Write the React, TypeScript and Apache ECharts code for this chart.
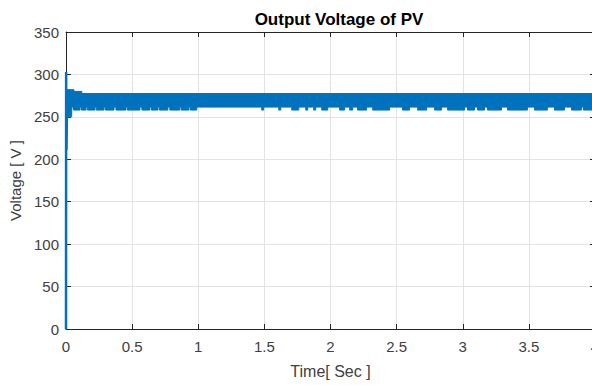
import React, { useEffect, useRef } from "react";
import * as echarts from "echarts";

// Start-up transient of the PV output voltage (time in s, voltage in V)
const startupTime = [0, 0.001, 0.004, 0.008];
const startupVolt = [0, 303, 211, 280];

// Upper edge of the ripple band (held until next time)
const upperEdgeTime = [0.004, 0.06, 0.12, 4.0];
const upperEdgeVolt = [282, 280, 277.5, 277.5];

// Lower edge of the ripple band (held until next time)
const lowerEdgeTime = [
  0.004, 0.043, 0.045, 0.056, 0.106, 0.116, 0.151, 0.161, 0.219, 0.229, 0.287, 0.297,
  0.363, 0.378, 0.453, 0.463, 0.559, 0.574, 0.634, 0.645, 0.695, 0.705, 0.77, 0.785,
  0.861, 0.871, 0.929, 0.939, 0.989, 1.48, 1.495, 1.609, 1.624, 1.707, 1.76, 1.813,
  1.828, 1.873, 1.888, 1.934, 1.979, 2.069, 2.107, 2.145, 2.168, 2.205, 2.273, 2.319,
  2.447, 2.545, 2.598, 2.659, 2.727, 2.787, 2.84, 2.885, 3.014, 3.036, 3.089, 3.112,
  3.165, 3.187, 3.293, 3.338, 3.489, 3.542, 3.64, 3.693, 3.769, 3.822, 3.897, 3.912, 4.0,
];
const lowerEdgeVolt = [
  250, 258, 261.5, 258, 261.5, 258, 261.5, 258, 261.5, 258, 261.5, 258,
  261.5, 258, 261.5, 258, 261.5, 258, 261.5, 258, 261.5, 258, 261.5, 258,
  261.5, 258, 261.5, 258, 261.5, 258, 261.5, 258, 261.5, 258, 261.5, 258,
  261.5, 258, 261.5, 258, 261.5, 258, 261.5, 258, 261.5, 258, 261.5, 258,
  261.5, 258, 261.5, 258, 261.5, 258, 261.5, 258, 261.5, 258, 261.5, 258,
  261.5, 258, 261.5, 258, 261.5, 258, 261.5, 258, 261.5, 258, 261.5, 258, 258,
];

const xTicks = ["0", "0.5", "1", "1.5", "2", "2.5", "3", "3.5", "4"];
const yTicks = ["0", "50", "100", "150", "200", "250", "300", "350"];

const BLUE = "#0072BD";
const AXIS = "#262626";
const LABEL = "#404040";
const GRID = "#e3e3e3";
const FONT = "'Liberation Sans', Arial, Helvetica, sans-serif";

export default function App() {
  const ref = useRef<HTMLDivElement>(null);
  useEffect(() => {
    if (!ref.current) return;
    const chart = echarts.init(ref.current, null, { renderer: "svg" });
    const pair = (t: number[], v: number[]) => t.map((x, i) => [x, v[i]]);
    const xMax = Number(xTicks[xTicks.length - 1]);
    const yMax = Number(yTicks[yTicks.length - 1]);
    const baseX = {
      type: "value",
      min: 0,
      max: xMax,
      interval: 0.5,
      axisLine: { show: true, onZero: false, lineStyle: { color: AXIS, width: 1 } },
      axisTick: { show: true, inside: true, length: 5, lineStyle: { color: AXIS } },
    };
    const baseY = {
      type: "value",
      min: 0,
      max: yMax,
      interval: 50,
      axisLine: { show: true, onZero: false, lineStyle: { color: AXIS, width: 1 } },
      axisTick: { show: true, inside: true, length: 5, lineStyle: { color: AXIS } },
    };
    chart.setOption({
      animation: false,
      title: {
        text: "Output Voltage of PV",
        left: 334,
        textAlign: "center",
        top: 6,
        textStyle: { fontFamily: FONT, fontSize: 17, fontWeight: "bold", color: "#000" },
      },
      grid: {
        left: 66,
        width: 529,
        top: 32,
        bottom: 56,
        containLabel: false,
        outerBoundsMode: "none",
      },
      xAxis: [
        {
          ...baseX,
          position: "bottom",
          name: "Time[ Sec ]",
          nameLocation: "middle",
          nameGap: 34,
          nameTextStyle: { fontFamily: FONT, fontSize: 16, color: LABEL },
          axisLabel: {
            fontFamily: FONT,
            fontSize: 15,
            color: LABEL,
            margin: 10,
            formatter: (v: number) => xTicks[Math.round(v / 0.5)] ?? "",
          },
          splitLine: { show: true, lineStyle: { color: GRID, width: 1 } },
        },
        {
          ...baseX,
          position: "top",
          axisLabel: { show: false },
          splitLine: { show: false },
        },
      ],
      yAxis: [
        {
          ...baseY,
          position: "left",
          name: "Voltage [ V ]",
          nameLocation: "middle",
          nameGap: 37,
          nameTextStyle: { fontFamily: FONT, fontSize: 15, color: LABEL },
          axisLabel: {
            fontFamily: FONT,
            fontSize: 15,
            color: LABEL,
            margin: 7,
            formatter: (v: number) => yTicks[Math.round(v / 50)] ?? "",
          },
          splitLine: { show: true, lineStyle: { color: GRID, width: 1 } },
        },
        {
          ...baseY,
          position: "right",
          axisLabel: { show: false },
          splitLine: { show: false },
        },
      ],
      series: [
        {
          type: "line",
          name: "upper",
          data: pair(upperEdgeTime, upperEdgeVolt),
          step: "end",
          showSymbol: false,
          symbol: "none",
          lineStyle: { color: BLUE, width: 1 },
          areaStyle: { color: BLUE, opacity: 1, origin: 261.5 },
          z: 3,
        },
        {
          type: "line",
          name: "lower",
          data: pair(lowerEdgeTime, lowerEdgeVolt),
          step: "end",
          showSymbol: false,
          symbol: "none",
          lineStyle: { color: BLUE, width: 1 },
          areaStyle: { color: BLUE, opacity: 1, origin: 261.5 },
          z: 3,
        },
        {
          type: "line",
          name: "startup",
          data: pair(startupTime, startupVolt),
          showSymbol: false,
          symbol: "none",
          lineStyle: { color: BLUE, width: 2.5 },
          z: 4,
        },
      ],
    });
    return () => chart.dispose();
  }, []);
  return (
    <div
      ref={ref}
      style={{ position: "fixed", left: 0, top: 0, width: 592, height: 385, background: "#fff" }}
    />
  );
}
